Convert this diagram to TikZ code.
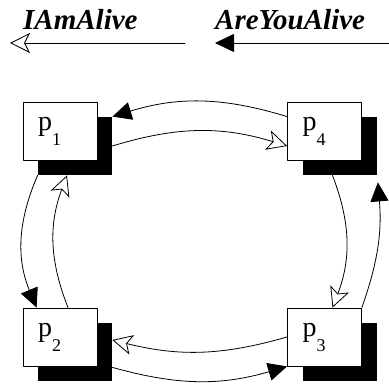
\documentclass[tikz,border=0pt]{standalone}
\usepackage{fontspec}
\setmainfont{Liberation Serif}
\usetikzlibrary{arrows.meta,shadows,calc,positioning}
\newcommand{\procname}[1]{p\raisebox{-15pt}{\fontsize{18}{18}\selectfont #1}}
\tikzset{%
        proc/.style = { draw, line width=0.8pt, fill=white, minimum width=74pt, minimum height=58pt,
                        inner xsep=15pt, inner ysep=0pt, text width=44pt, align=left,
                        font=\fontsize{28}{30}\selectfont,
                        drop shadow={shadow xshift=15pt, shadow yshift=-15pt, fill=black, opacity=1} },
         ask/.style = { line width=0.8pt, -{Triangle[length=19pt,width=18pt]} },
       alive/.style = { line width=0.8pt, -{Stealth[open,length=20pt,width=20pt,inset=5pt]} },
      legend/.style = { anchor=base west, inner sep=0pt, font=\fontsize{29}{30}\selectfont\bfseries\itshape }
}
\begin{document}
\begin{tikzpicture}[x=1pt,y=1pt,line cap=round,line join=round]
\useasboundingbox (0,0) rectangle (389,385);
% legend
\node[legend] (alivetxt) at (23,355) {IAmAlive};
\node[legend] (asktxt) at (215,355) {AreYouAlive};
\coordinate (aliveA) at (185,342);
\coordinate (aliveB) at (10,342);
\coordinate (askA) at (389,342);
\coordinate (askB) at (215,342);
\draw[alive] (aliveA) -- (aliveB);
\draw[ask] (askA) -- (askB);
% processes
\node[proc] (p1) at (60,254) {\procname{1}};
\node[proc] (p4) at (324.5,254) {\procname{4}};
\node[proc] (p2) at (60,48) {\procname{2}};
\node[proc] (p3) at (324.5,48) {\procname{3}};
% ring
\draw[ask] ($(p4.north west)+(0,-15)$) to[bend right=17] ($(p1.north east)+(15,-15)$);
\draw[alive] ($(p1.east)+(15,-15)$) to[bend left=17] ($(p4.west)+(0,-15)$);
\draw[ask] ($(p1.south west)+(15,-15)$) to[bend right=23] ($(p2.north west)+(14,0)$);
\draw[alive] ($(p2.north)+(8,0)$) to[bend left=21] ($(p1.south)+(7,-15)$);
\draw[alive] ($(p4.south)+(8,-15)$) to[bend left=21] ($(p3.north)+(8,0)$);
\draw[ask] (p3.north east) to[bend right=12] ($(p4.south east)+(16,-22)$);
\draw[alive] (p3.west) to[bend left=15] ($(p2.east)+(15,-3)$);
\draw[ask] ($(p2.south east)+(15,-1)$) to[bend right=16] (p3.south west);
\end{tikzpicture}
\end{document}
